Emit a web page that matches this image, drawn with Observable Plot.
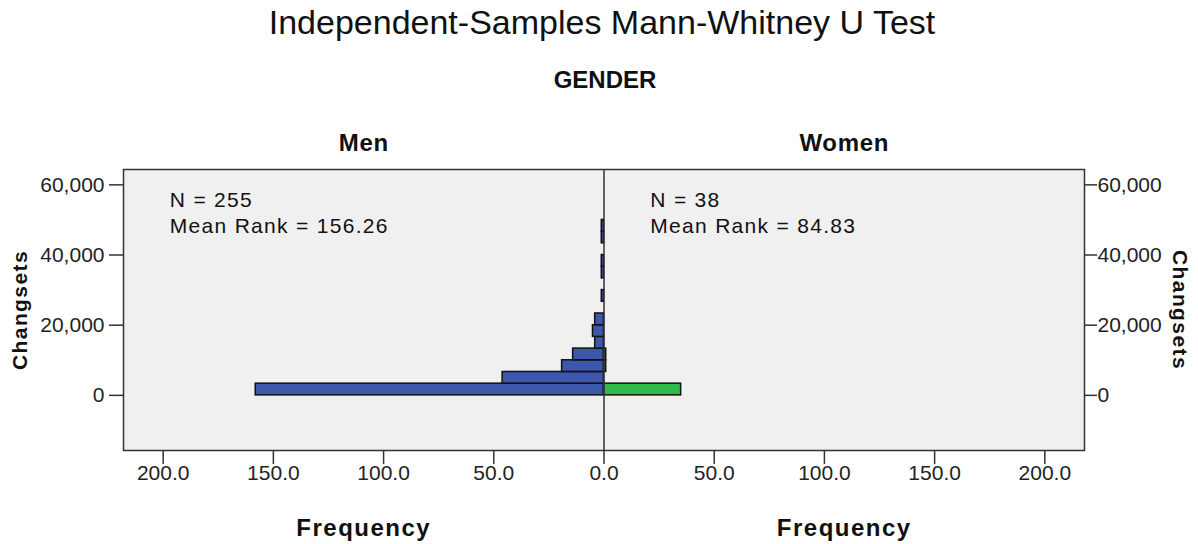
<!DOCTYPE html>
<html><head><meta charset="utf-8">
<script src="https://cdn.jsdelivr.net/npm/d3@7"></script>
<script src="https://cdn.jsdelivr.net/npm/@observablehq/plot@0.6"></script>
<style>
body{margin:0;background:#fff;font-family:"Liberation Sans",Arial,sans-serif;color:#111;}
#head{position:relative;width:1198px;height:100px;}
#title{position:absolute;left:3px;width:1198px;top:5px;text-align:center;font-size:34px;line-height:34px;}
#sub{position:absolute;left:6px;width:1198px;top:68px;text-align:center;font-size:24px;line-height:24px;font-weight:bold;}
#chart svg{display:block;}
</style></head>
<body>
<div id="head"><div id="title">Independent-Samples Mann-Whitney U Test</div><div id="sub">GENDER</div></div>
<div id="chart"></div>
<script>
const binStart = [0, 3333.33, 6666.67, 10000, 13333.33, 16666.67, 20000, 23333.33, 26666.67, 30000, 33333.33, 36666.67, 40000, 43333.33, 46666.67];
const binEnd   = [3333.33, 6666.67, 10000, 13333.33, 16666.67, 20000, 23333.33, 26666.67, 30000, 33333.33, 36666.67, 40000, 43333.33, 46666.67, 50000];
const menCounts   = [158, 46, 19, 14, 4, 5, 4, 0, 1, 0, 1, 1, 0, 1, 1];
const womenCounts = [35, 0, 1, 1, 0, 0, 0, 0, 0, 0, 0, 0, 0, 0, 0];
const groups = ["Men", "Women"];
const groupN = [255, 38];
const groupMeanRank = [156.26, 84.83];
const xTicks = [-200, -150, -100, -50, 0, 50, 100, 150, 200];
const yTicks = [0, 20000, 40000, 60000];

const men = binStart.map((s, i) => ({y1: s, y2: binEnd[i], x1: -menCounts[i], x2: 0})).filter(d => d.x1 !== 0);
const women = binStart.map((s, i) => ({y1: s, y2: binEnd[i], x1: 0, x2: womenCounts[i]})).filter(d => d.x2 !== 0);

const FONT = "Liberation Sans, Arial, sans-serif";
const XMAX = 218;
const chart = Plot.plot({
  width: 1198,
  height: 444,
  marginTop: 69,
  marginBottom: 94,
  marginLeft: 123,
  marginRight: 114,
  style: {fontFamily: FONT, fontSize: "21px", color: "#222", background: "#fff", overflow: "visible"},
  x: {domain: [-XMAX, XMAX]},
  y: {domain: [-15714, 64371]},
  marks: [
    Plot.frame({fill: "#f0f0f0"}),
    Plot.rect(men, {x1: "x1", x2: "x2", y1: "y1", y2: "y2", fill: "#3d58aa", stroke: "#111", strokeWidth: 1.5}),
    Plot.rect(women, {x1: "x1", x2: "x2", y1: "y1", y2: "y2", fill: "#2dbc4b", stroke: "#111", strokeWidth: 1.5}),
    Plot.ruleX([0], {stroke: "#333", strokeWidth: 1.5}),
    Plot.frame({stroke: "#333", strokeWidth: 1.5}),
    Plot.axisY({anchor: "left", ticks: yTicks, tickFormat: d3.format(","), tickSize: 14, tickPadding: 5, fontSize: 21, label: null, stroke: "#333", strokeWidth: 1.5}),
    Plot.axisY({anchor: "right", ticks: yTicks, tickFormat: d3.format(","), tickSize: 12, tickPadding: 1, fontSize: 21, label: null, stroke: "#333", strokeWidth: 1.5}),
    Plot.axisX({anchor: "bottom", ticks: xTicks, tickFormat: d => Math.abs(d).toFixed(1), tickSize: 14, tickPadding: 1, fontSize: 21, label: null, stroke: "#333", strokeWidth: 1.5}),
    // panel headers
    Plot.text(groups, {x: [-XMAX / 2, XMAX / 2], text: d => d, frameAnchor: "top", lineAnchor: "middle", dy: -26, fontSize: 24, fontWeight: "bold", fill: "#111"}),
    // x axis titles
    Plot.text(groups, {x: [-XMAX / 2, XMAX / 2], text: d => "Frequency", frameAnchor: "bottom", lineAnchor: "middle", dy: 78, fontSize: 24, fontWeight: "bold", fill: "#111"}),
    // y axis titles
    Plot.text(["Changsets"], {frameAnchor: "left", textAnchor: "middle", lineAnchor: "middle", dx: -103, rotate: -90, fontSize: 21, fontWeight: "bold", fill: "#111"}),
    Plot.text(["Changsets"], {frameAnchor: "right", textAnchor: "middle", lineAnchor: "middle", dx: 95, rotate: 90, fontSize: 21, fontWeight: "bold", fill: "#111"}),
    // statistics
    Plot.text(groups, {x: [-197, 21], y: [55500, 55500], text: (d, i) => `N = ${groupN[i]}`, textAnchor: "start", fontSize: 21, fill: "#111"}),
    Plot.text(groups, {x: [-197, 21], y: [48100, 48100], text: (d, i) => `Mean Rank = ${groupMeanRank[i].toFixed(2)}`, textAnchor: "start", fontSize: 21, fill: "#111"})
  ]
});
// widen lettering to match the reference rendering
d3.select(chart).selectAll("text").each(function() {
  const t = this.textContent;
  if (t.startsWith("N = ") || t.startsWith("Mean Rank")) this.setAttribute("letter-spacing", "1.3");
  else if (t === "Frequency") this.setAttribute("letter-spacing", "1.5");
  else if (t === "Changsets") this.setAttribute("letter-spacing", "1.4");
  else if (t === "Men" || t === "Women") this.setAttribute("letter-spacing", "0.7");
});
document.getElementById("chart").appendChild(chart);
</script>
</body></html>
